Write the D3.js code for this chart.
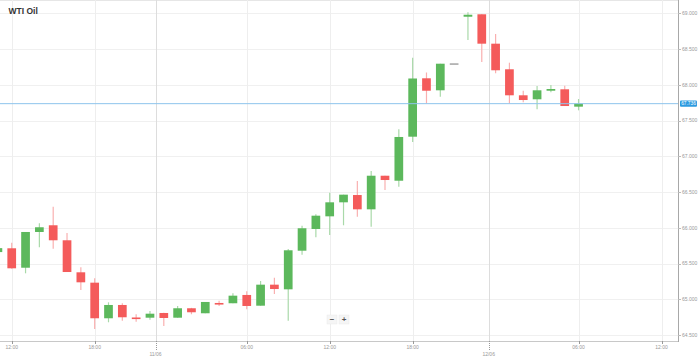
<!DOCTYPE html>
<html><head><meta charset="utf-8">
<script src="https://cdn.jsdelivr.net/npm/d3@7"></script>
<style>html,body{margin:0;padding:0;background:#fff;overflow:hidden}svg{display:block}</style>
</head><body>
<svg id="c" width="699" height="358"></svg>
<script>
// ---- data (hourly candles, index 0 partially visible) ----
const opens  = [65.66,65.713,65.441,65.941,66.035,65.825,65.377,65.232,64.734,64.92,64.745,64.742,64.808,64.742,64.874,64.804,64.948,64.944,65.06,64.91,65.204,65.139,65.679,65.983,66.16,66.356,66.458,66.258,66.728,66.658,67.274,68.091,67.923,68.301,68.952,68.986,68.575,68.217,67.853,67.797,67.917,67.937,67.694];
const closes = [65.715,65.433,65.941,66.007,65.825,65.381,65.237,64.734,64.92,64.748,64.74,64.798,64.738,64.874,64.818,64.962,64.944,65.05,64.906,65.204,65.143,65.685,65.993,66.169,66.356,66.463,66.258,66.728,66.668,67.27,68.088,67.917,68.295,68.301,68.98,68.575,68.203,67.853,67.787,67.923,67.941,67.703,67.736];
const highs  = [65.74,65.791,65.941,66.063,66.295,65.927,65.447,65.293,64.957,64.943,64.79,64.836,64.81,64.906,64.88,64.962,64.98,65.084,65.111,65.255,65.302,65.703,66.029,66.19,66.491,66.463,66.654,66.794,66.728,67.377,68.379,68.172,68.295,68.301,69.014,68.986,68.71,68.309,67.917,67.983,67.997,67.987,67.801];
const lows   = [65.63,65.425,65.363,65.727,65.707,65.38,65.13,64.584,64.678,64.70,64.686,64.714,64.626,64.742,64.79,64.804,64.906,64.944,64.86,64.91,65.074,64.70,65.623,65.867,65.899,66.035,66.155,66.015,66.528,66.574,67.2,67.741,67.833,68.301,68.627,68.319,68.161,67.741,67.755,67.657,67.895,67.703,67.643];
const yTicks = [64.5,65,65.5,66,66.5,67,67.5,68,68.5,69];
const hourTickPos = [1,7,18,24,30,42,48];
const hourTickLabels = ["12:00","18:00","06:00","12:00","18:00","06:00","12:00"];
const dateTickPos = [11.4,35.5];
const dateTickLabels = ["11/06","12/06"];
const lastPrice = 67.736;
const title = "WTI Oil";

const svg = d3.select("#c");
const plotRight = 678, plotBottom = 341;
const x = d3.scaleLinear().domain([0,48]).range([-2.1,661.5]);
const y = d3.scaleLinear().domain([64.5,69]).range([335,13.3]);
const step = x(1)-x(0);
const bw = step*0.63;
const font = "Liberation Sans, Arial, sans-serif";

const clip = svg.append("defs").append("clipPath").attr("id","pc")
  .append("rect").attr("x",0).attr("y",0).attr("width",plotRight).attr("height",plotBottom);

// top border
svg.append("line").attr("x1",0).attr("x2",plotRight).attr("y1",0.5).attr("y2",0.5).attr("stroke","#e6e6e6");

// grid
svg.append("g").selectAll("line").data(yTicks).join("line")
  .attr("x1",0).attr("x2",plotRight).attr("y1",d=>Math.round(y(d))+0.5).attr("y2",d=>Math.round(y(d))+0.5)
  .attr("stroke","#f0f0f0");
svg.append("g").selectAll("line").data(hourTickPos).join("line")
  .attr("x1",d=>Math.round(x(d))+0.5).attr("x2",d=>Math.round(x(d))+0.5).attr("y1",0).attr("y2",plotBottom)
  .attr("stroke","#eeeeee");
svg.append("g").selectAll("line").data(dateTickPos).join("line")
  .attr("x1",d=>Math.round(x(d))+0.5).attr("x2",d=>Math.round(x(d))+0.5).attr("y1",0).attr("y2",plotBottom)
  .attr("stroke","#dddddd");

// candles
const data = opens.map((o,i)=>({i,o,c:closes[i],h:highs[i],l:lows[i]}));
const col = d => d.c>d.o ? "#5cb85c" : (d.c<d.o ? "#f45b5b" : "#aaaaaa");
const wickCol = d => d.c>d.o ? "#a9d9a9" : (d.c<d.o ? "#f9b0b0" : "#aaaaaa");
const g = svg.append("g").attr("clip-path","url(#pc)");
g.selectAll("line.w").data(data).join("line").attr("class","w")
  .attr("x1",d=>x(d.i)).attr("x2",d=>x(d.i)).attr("y1",d=>y(d.h)).attr("y2",d=>y(d.l))
  .attr("stroke",wickCol).attr("stroke-width",1.2);
g.selectAll("rect.b").data(data).join("rect").attr("class","b")
  .attr("x",d=>x(d.i)-bw/2).attr("width",bw)
  .attr("y",d=>y(Math.max(d.o,d.c)))
  .attr("height",d=>Math.max(1.6,Math.abs(y(d.o)-y(d.c))))
  .attr("fill",col).attr("stroke",d=>d.c===d.o?"none":wickCol).attr("stroke-width",0.8);

// current price line
svg.append("line").attr("x1",0).attr("x2",plotRight).attr("y1",y(lastPrice)).attr("y2",y(lastPrice))
  .attr("stroke","#8ec4ec").attr("stroke-width",1);

// axes lines
svg.append("line").attr("x1",0).attr("x2",plotRight).attr("y1",plotBottom+0.5).attr("y2",plotBottom+0.5).attr("stroke","#c8c8c8");
svg.append("line").attr("x1",plotRight+0.5).attr("x2",plotRight+0.5).attr("y1",0).attr("y2",plotBottom+1).attr("stroke","#a8a8a8");

// y ticks and labels
svg.append("g").selectAll("line").data(yTicks).join("line")
  .attr("x1",plotRight).attr("x2",plotRight+3).attr("y1",d=>Math.round(y(d))+0.5).attr("y2",d=>Math.round(y(d))+0.5)
  .attr("stroke","#bbb");
svg.append("g").selectAll("text").data(yTicks).join("text")
  .attr("x",plotRight+4).attr("y",d=>y(d)+1.8)
  .attr("font-family",font).attr("font-size",5).attr("fill","#999")
  .text(d=>d3.format(".3f")(d));

// x ticks and labels
svg.append("g").selectAll("line").data(hourTickPos).join("line")
  .attr("x1",d=>Math.round(x(d))+0.5).attr("x2",d=>Math.round(x(d))+0.5).attr("y1",plotBottom).attr("y2",plotBottom+3)
  .attr("stroke","#999");
svg.append("g").selectAll("text").data(hourTickPos).join("text")
  .attr("x",d=>x(d)).attr("y",plotBottom+7.5).attr("text-anchor","middle")
  .attr("font-family",font).attr("font-size",5).attr("fill","#999")
  .text((d,i)=>hourTickLabels[i]);
svg.append("g").selectAll("line").data(dateTickPos).join("line")
  .attr("x1",d=>Math.round(x(d))+0.5).attr("x2",d=>Math.round(x(d))+0.5).attr("y1",plotBottom).attr("y2",plotBottom+9)
  .attr("stroke","#999").attr("stroke-dasharray","1,1");
svg.append("g").selectAll("text").data(dateTickPos).join("text")
  .attr("x",d=>x(d)).attr("y",plotBottom+14.5).attr("text-anchor","middle")
  .attr("font-family",font).attr("font-size",5).attr("fill","#999")
  .text((d,i)=>dateTickLabels[i]);

// price label
const ly = y(lastPrice);
svg.append("rect").attr("x",plotRight+2).attr("y",ly-3.2).attr("width",17).attr("height",6.4).attr("rx",1)
  .attr("fill","#2d9be0");
svg.append("text").attr("x",plotRight+10.5).attr("y",ly+1.7).attr("text-anchor","middle")
  .attr("font-family",font).attr("font-size",4.8).attr("fill","#fff").text(d3.format(".3f")(lastPrice));

// title
svg.append("text").attr("x",8.5).attr("y",14).attr("font-family",font).attr("font-weight","bold")
  .attr("font-size",8.5).attr("fill","#333").text(title);

// zoom buttons
const btns = ["\u2212","+"];
svg.append("g").selectAll("rect").data(btns).join("rect")
  .attr("x",(d,i)=>327+i*12).attr("y",315).attr("width",10).attr("height",9)
  .attr("fill","#f5f5f5").attr("stroke","#eaeaea").attr("stroke-width",0.5);
svg.append("g").selectAll("text").data(btns).join("text")
  .attr("x",(d,i)=>332+i*12).attr("y",322).attr("text-anchor","middle")
  .attr("font-family",font).attr("font-weight","bold").attr("font-size",8).attr("fill","#555").text(d=>d);
</script>
</body></html>
